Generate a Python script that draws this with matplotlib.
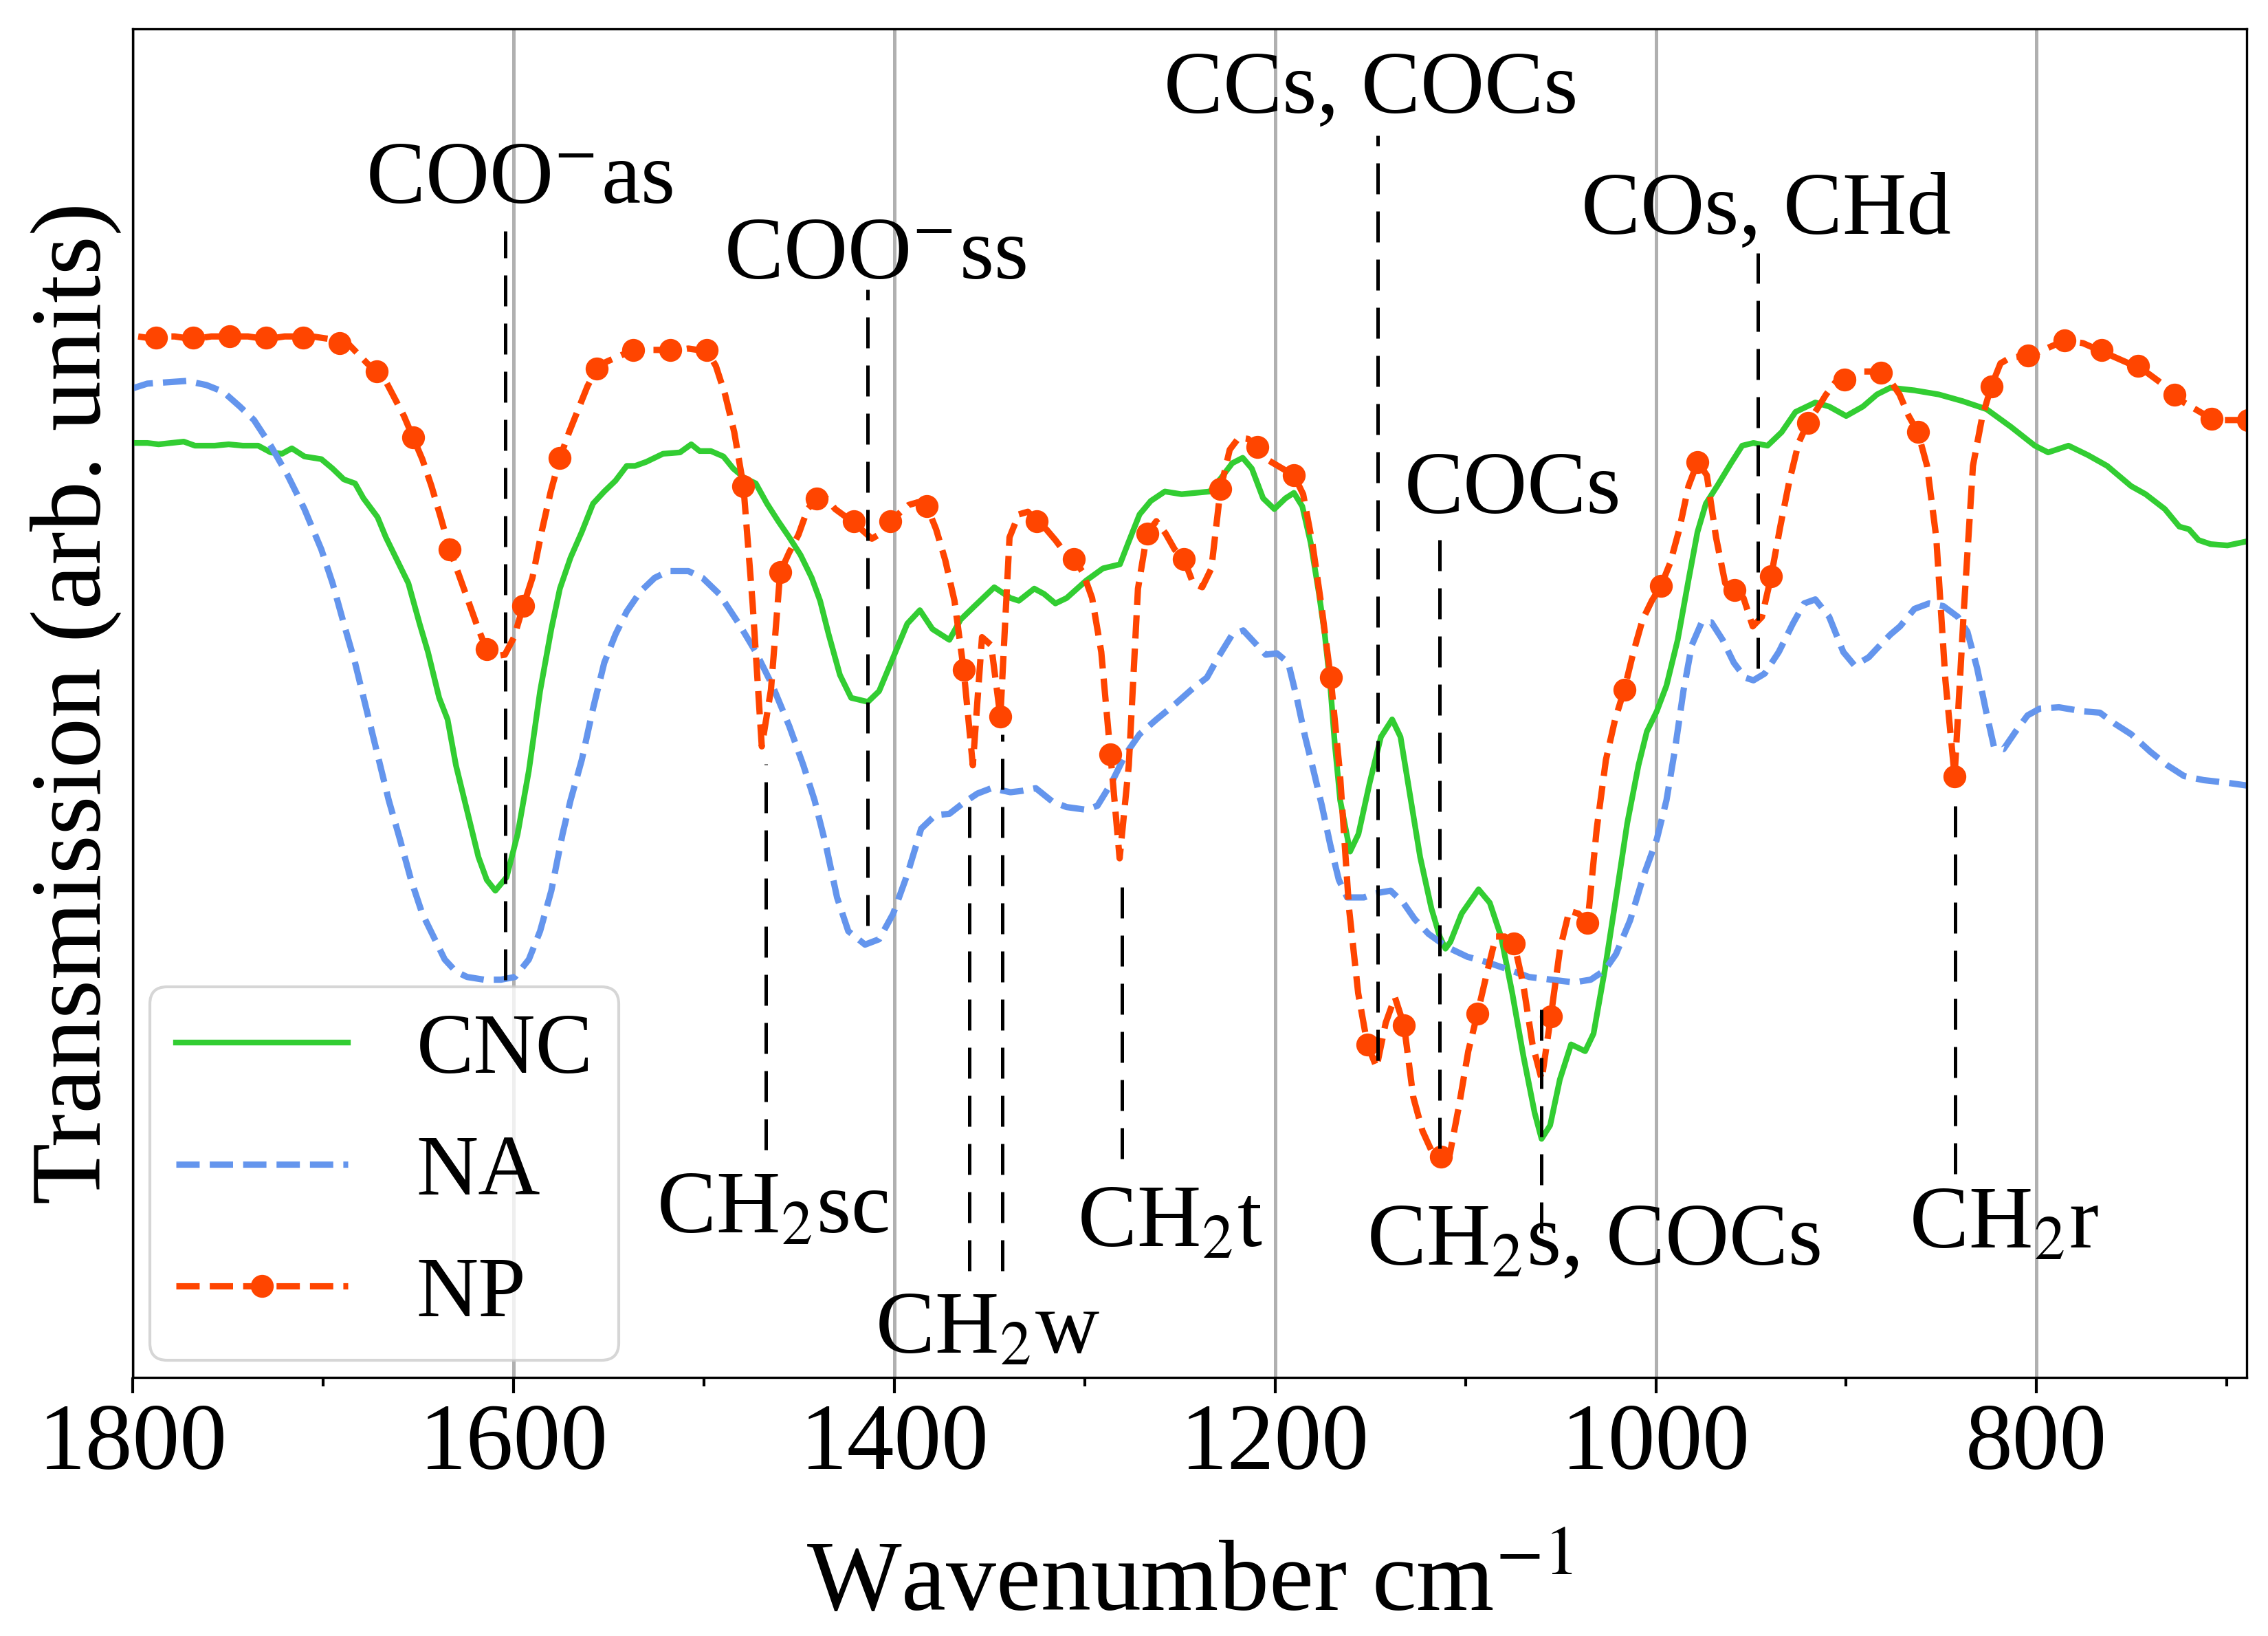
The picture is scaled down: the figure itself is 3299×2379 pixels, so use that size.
import numpy as np
import matplotlib
matplotlib.use("Agg")
from matplotlib import pyplot as plt
from matplotlib.ticker import MultipleLocator

plt.rcParams['font.family'] = ['Liberation Serif', 'DejaVu Serif']
plt.rcParams['mathtext.fontset'] = 'stix'

# CNC spectrum (wavenumber, transmission in arb. units)
cnc_x = [1801.3, 1792.4, 1786.5, 1773.3, 1767.4, 1757.0, 1749.7, 1742.3, 1734.2, 1727.6,
         1721.7, 1716.5, 1709.9, 1701.0, 1695.1, 1689.2, 1683.3, 1678.9, 1671.5, 1667.1,
         1661.2, 1655.3, 1649.4, 1645.0, 1639.1, 1634.7, 1630.3, 1624.4, 1618.5, 1614.1,
         1609.6, 1603.7, 1597.9, 1592.0, 1586.1, 1580.2, 1575.7, 1570.1, 1564.2, 1558.3,
         1552.4, 1546.5, 1540.6, 1536.2, 1530.3, 1521.5, 1512.6, 1506.7, 1502.3, 1496.4,
         1489.8, 1484.6, 1478.7, 1472.8, 1466.9, 1461.0, 1455.2, 1449.3, 1443.4, 1439.0,
         1434.5, 1428.6, 1422.7, 1413.9, 1408.0, 1400.6, 1393.2, 1386.6, 1380.0, 1371.1,
         1365.2, 1357.9, 1347.5, 1339.0, 1334.6, 1326.5, 1321.3, 1315.4, 1309.5, 1299.2,
         1290.4, 1281.5, 1277.1, 1271.2, 1265.3, 1257.9, 1249.1, 1241.7, 1234.3, 1228.4,
         1222.5, 1217.0, 1212.2, 1206.3, 1200.4, 1194.5, 1190.1, 1185.7, 1181.3, 1176.9,
         1173.9, 1171.0, 1168.7, 1165.8, 1160.6, 1156.2, 1150.3, 1144.4, 1138.5, 1134.1,
         1129.7, 1123.8, 1117.9, 1113.5, 1110.5, 1107.9, 1102.0, 1093.1, 1087.2, 1081.3,
         1075.4, 1069.5, 1063.6, 1060.0, 1055.5, 1050.4, 1044.5, 1037.1, 1032.7, 1026.8,
         1020.9, 1015.0, 1009.1, 1004.7, 999.5, 994.4, 988.5, 982.6, 978.1, 973.7,
         967.8, 960.5, 954.6, 948.7, 941.3, 933.9, 926.6, 916.2, 908.9, 900.0,
         891.2, 883.8, 876.7, 864.1, 851.4, 838.8, 826.2, 813.5, 800.9, 793.9,
         783.2, 773.0, 762.9, 750.3, 742.7, 732.6, 725.0, 719.9, 714.9, 708.6,
         699.7, 689.6]
cnc_y = [69.3, 69.3, 69.2, 69.4, 69.1, 69.1, 69.2, 69.1, 69.1, 68.6,
         68.5, 68.9, 68.3, 68.1, 67.4, 66.6, 66.3, 65.2, 63.8, 62.3,
         60.6, 58.9, 55.9, 53.8, 50.4, 48.8, 45.4, 42.0, 38.6, 36.9,
         36.1, 37.1, 40.3, 45.0, 50.9, 55.5, 58.5, 60.8, 62.7, 64.8,
         65.7, 66.5, 67.6, 67.6, 67.9, 68.5, 68.6, 69.2, 68.7, 68.7,
         68.3, 67.4, 66.7, 66.3, 64.8, 63.5, 62.3, 61.0, 59.3, 57.6,
         55.1, 52.1, 50.4, 50.1, 50.9, 53.4, 55.9, 56.9, 55.5, 54.7,
         56.2, 57.2, 58.6, 57.8, 57.6, 58.5, 58.1, 57.4, 57.8, 59.1,
         60.0, 60.3, 61.9, 64.0, 65.0, 65.7, 65.5, 65.6, 65.7, 66.7,
         67.8, 68.2, 67.4, 65.2, 64.4, 65.2, 65.6, 64.6, 61.9, 58.1,
         55.1, 51.3, 47.1, 42.8, 39.0, 40.3, 44.1, 47.5, 48.8, 47.5,
         43.7, 38.6, 34.8, 32.7, 31.8, 32.3, 34.4, 36.2, 35.2, 32.7,
         28.5, 23.8, 19.6, 17.7, 18.7, 22.1, 24.7, 24.2, 25.5, 30.2,
         35.6, 41.1, 45.4, 47.9, 49.4, 51.3, 54.7, 59.3, 62.7, 64.8,
         66.1, 67.8, 69.1, 69.3, 69.1, 70.1, 71.6, 72.3, 72.0, 71.3,
         72.0, 72.9, 73.4, 73.2, 72.9, 72.4, 71.8, 70.5, 69.1, 68.6,
         69.1, 68.4, 67.6, 66.1, 65.5, 64.4, 63.1, 62.9, 62.1, 61.8,
         61.7, 62.0]

# NA spectrum
na_x = [1801.3, 1792.4, 1782.1, 1771.8, 1761.5, 1752.6, 1743.8, 1736.4, 1727.6, 1718.7,
        1709.9, 1701.0, 1695.1, 1689.2, 1683.3, 1677.4, 1671.5, 1665.6, 1659.7, 1653.9,
        1648.0, 1642.1, 1636.2, 1630.3, 1624.4, 1615.5, 1606.7, 1599.3, 1592.0, 1586.1,
        1580.2, 1574.3, 1570.1, 1564.2, 1558.3, 1552.4, 1546.5, 1540.6, 1533.3, 1525.9,
        1518.5, 1508.2, 1500.8, 1492.0, 1481.7, 1472.8, 1464.0, 1455.2, 1447.8, 1441.9,
        1436.0, 1430.1, 1424.2, 1415.4, 1408.0, 1400.6, 1393.2, 1385.9, 1378.5, 1371.1,
        1363.8, 1356.4, 1349.0, 1339.0, 1333.1, 1325.7, 1316.9, 1309.5, 1299.2, 1293.3,
        1285.9, 1278.6, 1271.2, 1262.3, 1252.0, 1243.2, 1235.8, 1229.9, 1222.5, 1216.7,
        1210.8, 1204.9, 1199.0, 1193.1, 1188.6, 1184.2, 1179.8, 1175.4, 1171.0, 1166.5,
        1162.1, 1153.3, 1147.4, 1139.3, 1132.6, 1126.7, 1119.4, 1113.5, 1107.9, 1099.0,
        1088.7, 1078.4, 1066.6, 1054.8, 1043.0, 1034.2, 1026.8, 1020.9, 1013.5, 1006.2,
        999.5, 994.4, 989.9, 985.5, 981.1, 975.9, 970.8, 964.9, 959.0, 953.1,
        948.7, 942.8, 935.4, 928.0, 922.1, 916.2, 908.9, 901.5, 895.6, 888.2,
        880.9, 876.7, 871.7, 864.1, 856.5, 848.9, 841.3, 836.3, 831.2, 826.2,
        822.4, 817.3, 811.0, 804.7, 798.3, 788.2, 775.6, 766.7, 759.1, 750.3,
        740.2, 731.3, 722.5, 712.3, 699.7, 689.6]
na_y = [73.3, 73.7, 73.8, 73.9, 73.6, 73.1, 72.0, 71.0, 69.1, 66.9,
        64.4, 61.4, 58.9, 55.9, 53.0, 49.6, 46.2, 42.8, 39.9, 36.9,
        34.4, 32.7, 31.0, 30.1, 29.7, 29.5, 29.5, 29.7, 31.0, 33.1,
        36.1, 40.3, 42.8, 45.8, 49.6, 53.0, 55.1, 56.8, 58.3, 59.3,
        59.8, 59.8, 59.3, 58.1, 55.9, 53.8, 51.3, 48.3, 45.4, 42.8,
        39.5, 35.6, 33.1, 32.1, 32.5, 34.4, 37.3, 40.7, 41.7, 41.8,
        42.6, 43.3, 43.7, 43.4, 43.5, 43.7, 42.7, 42.3, 42.1, 42.4,
        44.1, 46.2, 47.7, 48.8, 50.0, 51.1, 51.9, 53.4, 55.1, 55.4,
        54.5, 53.6, 53.7, 53.0, 50.4, 47.5, 45.0, 42.4, 39.5, 36.9,
        35.6, 35.6, 35.9, 36.1, 35.2, 34.0, 32.9, 32.3, 31.8, 31.2,
        30.8, 30.3, 29.7, 29.5, 29.3, 29.5, 30.2, 31.4, 33.9, 37.3,
        39.9, 42.8, 46.6, 50.9, 54.3, 56.0, 56.0, 54.7, 53.0, 51.9,
        51.7, 52.2, 53.8, 55.9, 57.4, 57.7, 56.4, 53.8, 52.8, 53.4,
        54.5, 55.1, 55.7, 57.0, 57.4, 57.2, 56.4, 55.3, 52.6, 49.2,
        46.8, 46.6, 47.9, 49.1, 49.6, 49.7, 49.4, 49.3, 48.5, 47.7,
        46.4, 45.4, 44.6, 44.3, 44.1, 43.9]

# NP spectrum, evenly sampled from np_start upwards in steps of np_step
np_start = 688.8
np_step = 4.82
np_y = [71.0, 71.0, 71.0, 71.0, 71.1, 71.5, 71.9, 72.3, 72.9, 73.5,
        74.0, 74.5, 75.0, 75.2, 75.5, 75.8, 76.2, 76.4, 76.7, 76.8,
        76.9, 76.6, 76.3, 76.0, 75.8, 75.7, 75.6, 75.2, 73.5, 71.2,
        67.6, 56.8, 44.6, 51.7, 62.3, 67.6, 70.1, 71.3, 72.9, 73.9,
        74.5, 74.6, 74.6, 74.3, 74.0, 73.8, 72.9, 71.8, 70.8, 69.3,
        66.5, 63.1, 59.4, 56.4, 55.7, 57.8, 58.4, 58.9, 62.3, 66.9,
        67.9, 66.1, 62.9, 60.4, 58.7, 57.6, 56.2, 53.8, 51.0, 48.8,
        45.8, 40.7, 33.7, 34.4, 34.6, 31.8, 26.8, 22.1, 24.7, 29.1,
        32.2, 32.7, 32.7, 29.9, 27.0, 24.2, 20.2, 16.6, 16.4, 16.8,
        18.3, 20.8, 26.1, 28.2, 26.3, 23.0, 24.7, 28.5, 34.8, 44.9,
        51.9, 57.2, 61.9, 65.5, 66.9, 67.3, 67.7, 68.1, 69.0, 69.6,
        69.7, 68.8, 65.9, 60.0, 58.6, 58.9, 60.7, 61.4, 62.6, 63.5,
        62.6, 58.5, 45.4, 38.5, 46.2, 53.8, 57.8, 59.7, 60.7, 61.2,
        62.1, 62.9, 63.5, 64.2, 64.0, 62.3, 49.0, 54.3, 54.9, 45.4,
        52.5, 57.6, 60.6, 62.9, 64.6, 64.9, 64.7, 64.1, 63.5, 62.6,
        62.2, 62.8, 63.5, 63.9, 64.4, 65.2, 65.2, 64.4, 62.5, 61.2,
        59.7, 51.0, 46.8, 57.4, 66.1, 70.1, 72.9, 75.0, 76.2, 76.2,
        76.3, 76.2, 76.2, 76.2, 76.2, 76.2, 76.2, 75.9, 75.6, 75.3,
        74.8, 73.5, 71.8, 70.1, 68.2, 65.7, 62.7, 59.3, 57.2, 54.9,
        53.6, 53.5, 54.0, 55.7, 57.6, 59.5, 61.4, 63.8, 66.1, 68.1,
        69.7, 71.3, 72.6, 73.9, 74.6, 75.2, 75.9, 76.6, 76.7, 77.0,
        77.1, 77.2, 77.1, 77.2, 77.2, 77.1, 77.1, 77.1, 77.2, 77.2,
        77.2, 77.2, 77.2, 77.1, 77.1, 77.1, 77.2, 77.2, 77.1, 77.1,
        77.2, 77.1]

# band marker lines
band_x = [1604.2, 1413.9, 1467.4, 1360.5, 1343.4, 1280.3, 1146.2, 1113.5, 1060.0, 946.3, 842.6]
band_lo = [29.5, 33.5, 16.9, 7.9, 7.9, 16.2, 23.5, 17.0, 10.7, 52.6, 15.1]
band_hi = [85.0, 80.7, 45.5, 43.3, 47.7, 37.3, 92.1, 63.3, 27.6, 83.4, 43.0]

# band names
band_names = ['COO$^{-}$as', 'COO$^{-}$ss', 'CCs, COCs', 'COs, CHd', 'COCs',
              'CH$_2$sc', 'CH$_2$w', 'CH$_2$t', 'CH$_2$s, COCs', 'CH$_2$r']
name_x = [1597.1, 1410.2, 1149.5, 942.1, 1075.1, 1464.1, 1350.9, 1255.2, 1032.5, 817.3]
name_y = [87.1, 81.5, 93.8, 84.8, 64.1, 10.7, 1.8, 9.7, 8.4, 9.6]


def main():
    fig = plt.figure(figsize=(3299 / 300, 2379 / 300), dpi=300)
    ax = fig.add_axes([0.0586, 0.158, 0.9320, 0.8243])

    ax.plot(cnc_x, cnc_y, color='limegreen', lw=2.0, label='CNC')
    ax.plot(na_x, na_y, color='cornflowerblue', lw=2.2, ls='--', label='NA')
    np_x = np_start + np_step * np.arange(len(np_y))
    ax.plot(np_x, np_y, color='orangered', lw=2.2, ls='--', marker='o', ms=7,
            markevery=4, label='NP')

    ax.vlines(band_x, band_lo, band_hi, colors='k', lw=1.2, linestyles=[(0, (9, 5))])
    for name, x, y in zip(band_names, name_x, name_y):
        ax.text(x, y, name, fontsize=31, ha='center', va='baseline')

    ax.set_xlim(1800, 689.6)
    ax.set_ylim(0, 100)
    ax.xaxis.set_major_locator(MultipleLocator(200))
    ax.xaxis.set_minor_locator(MultipleLocator(100))
    ax.set_yticks([])
    ax.tick_params(axis='x', which='major', labelsize=33, length=5.5, width=1.0)
    ax.tick_params(axis='x', which='minor', length=3, width=1.0)
    ax.grid(True, axis='x', which='major', color='#b0b0b0', lw=1.2)

    ax.set_xlabel('Wavenumber cm$^{-1}$', fontsize=35, labelpad=18)
    ax.set_ylabel('Transmission (arb. units)', fontsize=35)
    ax.legend(loc='lower left', fontsize=30, borderaxespad=0.2,
              labelspacing=0.5, borderpad=0.3)

    fig.savefig('out.png', dpi=300)


if __name__ == "__main__":
    main()
